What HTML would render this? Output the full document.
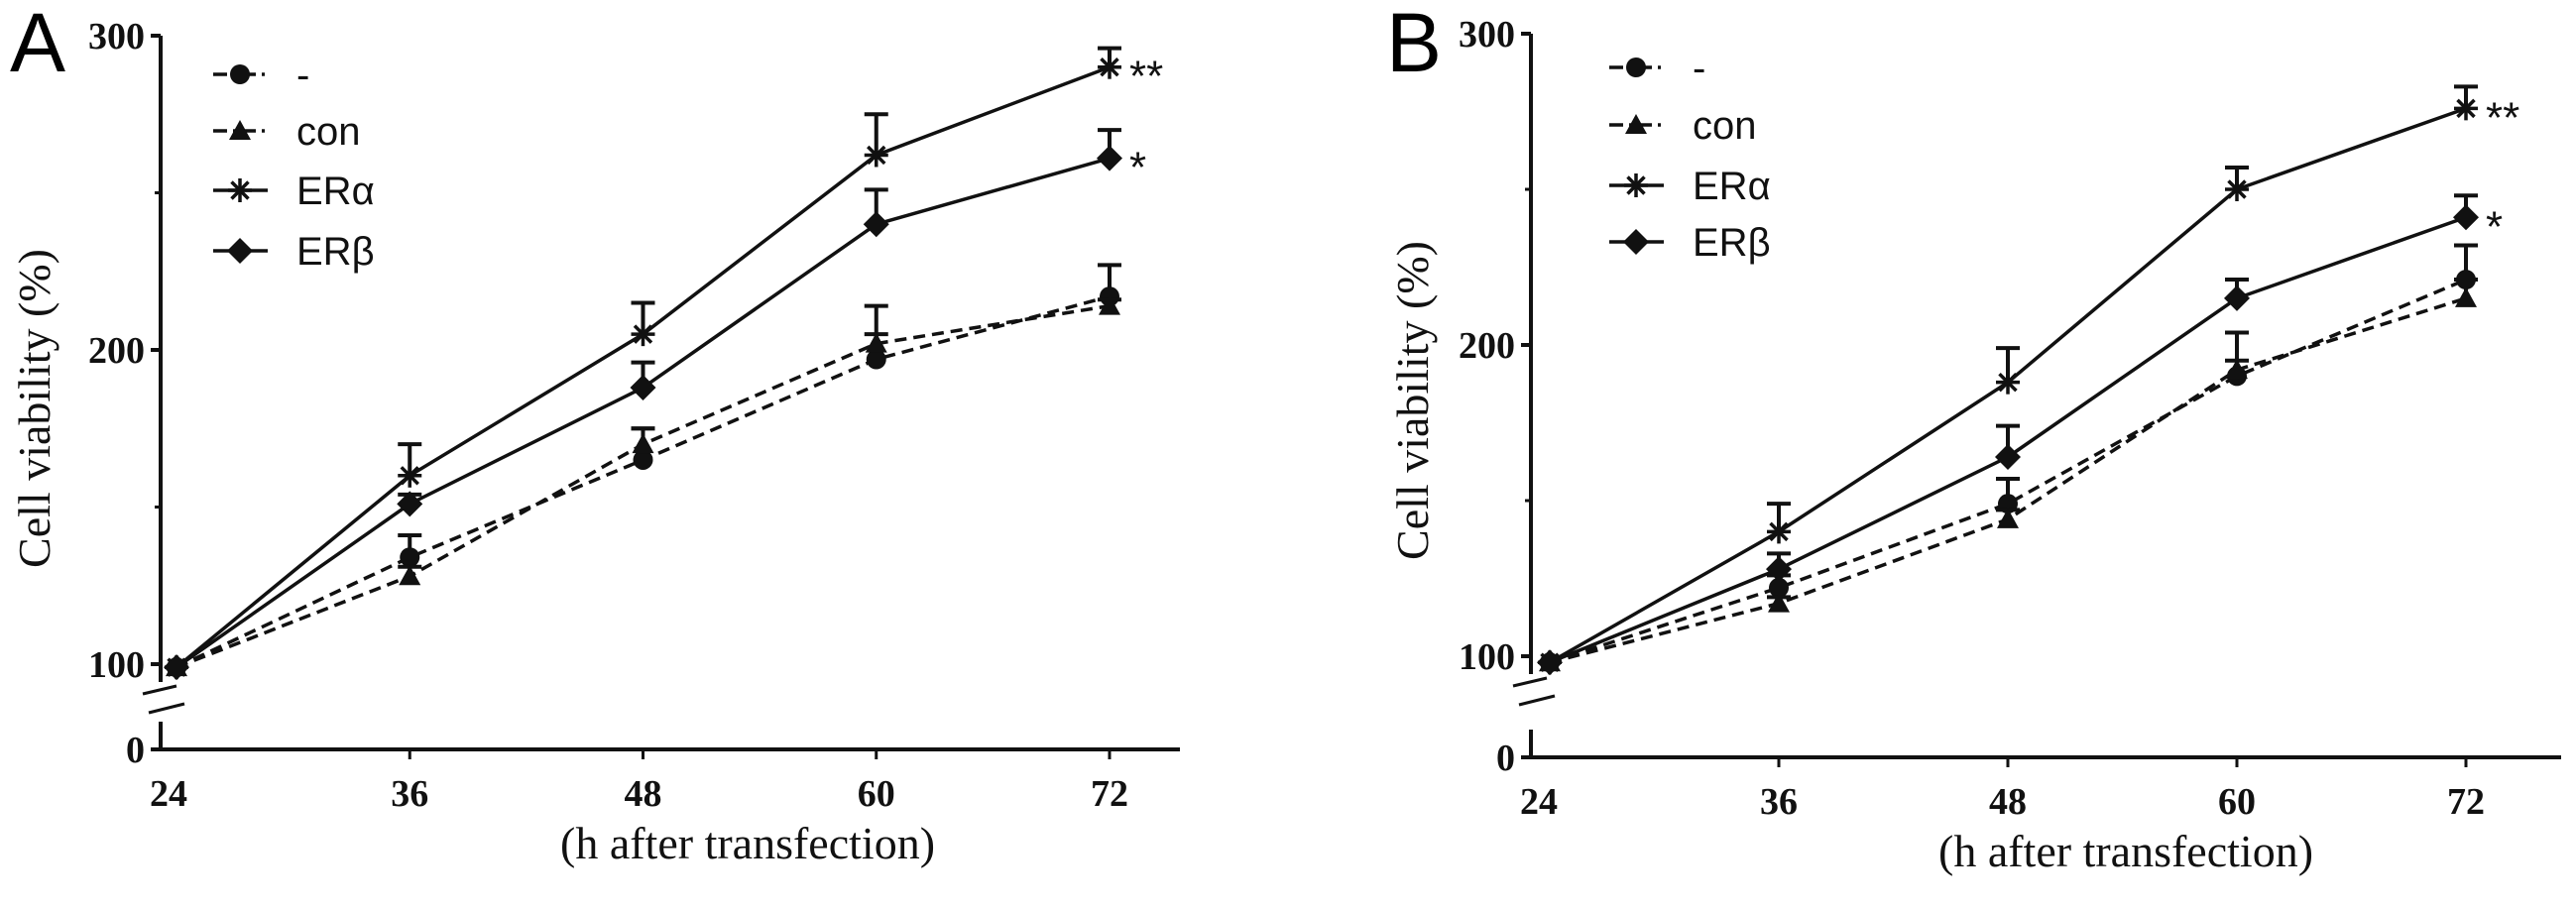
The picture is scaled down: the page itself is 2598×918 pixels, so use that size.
<!DOCTYPE html>
<html><head><meta charset="utf-8"><style>
html,body{margin:0;padding:0;background:#fff;}
svg{display:block;}
.tick{font-family:"Liberation Serif",serif;font-weight:bold;font-size:38px;fill:#111;}
.ttl{font-family:"Liberation Serif",serif;font-size:46px;fill:#111;}
.leg{font-family:"Liberation Sans",sans-serif;font-size:40px;fill:#111;}
.pan{font-family:"Liberation Sans",sans-serif;font-size:84px;fill:#000;}
.star{font-family:"Liberation Sans",sans-serif;font-size:44px;fill:#111;}
</style></head><body>
<svg id="fig" width="2598" height="918" viewBox="0 0 2598 918" xmlns="http://www.w3.org/2000/svg"></svg>
<script>
const hours = [24, 36, 48, 60, 72];
const seriesNames = ['-', 'con', 'ER\u03b1', 'ER\u03b2'];
const yTicks = [100, 200, 300];
const xTickLabels = ['24', '36', '48', '60', '72'];
// Panel A
const aNone = [99, 134, 165, 197, 217];
const aCon = [99, 128, 170, 202, 214];
const aEra = [99, 160, 205, 262, 290];
const aErb = [99, 151, 188, 240, 261];
const aNoneErr = [0, 7, 10, 17, 10];
const aConErr = [0, 3, 5, 3, 2];
const aEraErr = [0, 10, 10, 13, 6];
const aErbErr = [0, 3, 8, 11, 9];
// Panel B
const bNone = [98, 122, 149, 190, 221];
const bCon = [98, 117, 144, 192, 215];
const bEra = [98, 140, 188, 250, 276];
const bErb = [98, 128, 164, 215, 241];
const bNoneErr = [0, 4, 8, 14, 11];
const bConErr = [0, 2, 3, 3, 6];
const bEraErr = [0, 9, 11, 7, 7];
const bErbErr = [0, 5, 10, 6, 7];
const aStars = ['**', '*'];
const bStars = ['**', '*'];

const NS = 'http://www.w3.org/2000/svg';
const svg = document.getElementById('fig');
function mk(tag, attrs, parent) {
  const e = document.createElementNS(NS, tag);
  for (const k in attrs) e.setAttribute(k, attrs[k]);
  (parent || svg).appendChild(e);
  return e;
}
function marker(g, kind, x, y) {
  let m;
  if (kind === 0) m = mk('circle', {cx: x, cy: y, r: 10, fill: '#111'}, g);
  else if (kind === 1) m = mk('polygon', {points: `${x},${y-11} ${x+11},${y+9} ${x-11},${y+9}`, fill: '#111'}, g);
  else if (kind === 2) {
    m = mk('g', {stroke: '#111', 'stroke-width': 3.5}, g);
    for (let i = 0; i < 4; i++) {
      const a = i * Math.PI / 4, dx = 12 * Math.cos(a), dy = 12 * Math.sin(a);
      mk('line', {x1: x - dx, y1: y - dy, x2: x + dx, y2: y + dy}, m);
    }
  } else m = mk('polygon', {points: `${x},${y-13} ${x+13},${y} ${x},${y+13} ${x-13},${y}`, fill: '#111'}, g);
  
  
  return m;
}
function panel(cfg) {
  const p = mk('g', {});
  
  
  const xs = h => cfg.x0 + (h - 24) / 12 * cfg.xstep;
  const ys = v => cfg.y100 - (v - 100) * cfg.yk;
  // panel letter
  const L = mk('text', {x: cfg.letterX, y: 72, class: 'pan'}, p);
  L.textContent = cfg.id.toUpperCase();
  
  
  // axes
  const ax = mk('g', {stroke: '#111', 'stroke-width': 4, fill: 'none'}, p);
  
  
  mk('line', {x1: cfg.ax, y1: ys(300), x2: cfg.ax, y2: cfg.y100 + 18}, ax);
  mk('line', {x1: cfg.ax, y1: cfg.y0 - 28, x2: cfg.ax, y2: cfg.y0 + 2}, ax);
  mk('line', {x1: cfg.ax - 18, y1: cfg.y100 + 30, x2: cfg.ax + 16, y2: cfg.y100 + 22, 'stroke-width': 3}, ax);
  mk('line', {x1: cfg.ax - 12, y1: cfg.y100 + 49, x2: cfg.ax + 24, y2: cfg.y100 + 40, 'stroke-width': 3}, ax);
  mk('line', {x1: cfg.ax - 10, y1: cfg.y0, x2: cfg.xend, y2: cfg.y0}, ax);
  mk('line', {x1: cfg.ax - 10, y1: cfg.y0, x2: cfg.ax, y2: cfg.y0}, ax);
  yTicks.forEach(t => {
    mk('line', {x1: cfg.ax - 10, y1: ys(t), x2: cfg.ax, y2: ys(t)}, ax);
    const tx = mk('text', {x: cfg.ax - 16, y: ys(t) + 13, class: 'tick', 'text-anchor': 'end'}, p);
    tx.textContent = t;
    
    
  });
  [150, 250].forEach(t => mk('line', {x1: cfg.ax - 6, y1: ys(t), x2: cfg.ax, y2: ys(t), 'stroke-width': 3}, ax));
  const z = mk('text', {x: cfg.ax - 16, y: cfg.y0 + 13, class: 'tick', 'text-anchor': 'end'}, p);
  z.textContent = '0';
  
  
  hours.forEach((h, i) => {
    if (i > 0) mk('line', {x1: xs(h), y1: cfg.y0, x2: xs(h), y2: cfg.y0 + 10, 'stroke-width': 3}, ax);
    const tx = mk('text', {x: (i === 0 ? cfg.ax + 8 : xs(h)), y: cfg.y0 + 57, class: 'tick', 'text-anchor': 'middle'}, p);
    tx.textContent = xTickLabels[i];
    
    
  });
  const yt = mk('text', {x: 0, y: 0, class: 'ttl', 'text-anchor': 'middle', transform: `translate(${cfg.ytX},${cfg.ytY}) rotate(-90)`}, p);
  yt.textContent = 'Cell viability (%)';
  
  
  const xt = mk('text', {x: cfg.xtX, y: cfg.y0 + 110, class: 'ttl'}, p);
  xt.textContent = '(h after transfection)';
  
  
  // series
  cfg.series.forEach((s, k) => {
    const g = mk('g', {}, p);
    
    
    const pts = hours.map((h, i) => xs(h) + ',' + ys(s[i])).join(' ');
    const ln = mk('polyline', {points: pts, fill: 'none', stroke: '#111', 'stroke-width': 3.5, 'stroke-dasharray': k < 2 ? '12,7' : 'none'}, g);
    
    
    hours.forEach((h, i) => {
      const e = cfg.errs[k][i];
      if (e > 0) {
        const eb = mk('g', {stroke: '#111', 'stroke-width': 4}, g);
        
        
        mk('line', {x1: xs(h), y1: ys(s[i]), x2: xs(h), y2: ys(s[i] + e)}, eb);
        mk('line', {x1: xs(h) - 12, y1: ys(s[i] + e), x2: xs(h) + 12, y2: ys(s[i] + e)}, eb);
      }
      marker(g, k, xs(h), ys(s[i]));
    });
  });
  // stars
  [2, 3].forEach((k, j) => {
    const st = mk('text', {x: xs(72) + 20, y: ys(cfg.series[k][4]) + 24, class: 'star'}, p);
    st.textContent = cfg.stars[j];
    
    
  });
  // legend
  const lg = mk('g', {}, p);
  
  
  seriesNames.forEach((n, k) => {
    const y = cfg.legY[k];
    const e = mk('g', {}, lg);
    
    
    mk('line', {x1: cfg.legX, y1: y, x2: cfg.legX + 55, y2: y, stroke: '#111', 'stroke-width': 3.5, 'stroke-dasharray': k < 2 ? '14,6,3,6' : 'none'}, e);
    marker(e, k, cfg.legX + 27, y);
    const t = mk('text', {x: cfg.legX + 84, y: y + 14, class: 'leg'}, e);
    t.textContent = n;
  });
}
panel({id: 'a', x0: 178, xstep: 235.25, y100: 670, yk: 3.17, y0: 756, ax: 162, xend: 1190,
  letterX: 10, ytX: 50, ytY: 412, xtX: 565,
  series: [aNone, aCon, aEra, aErb], errs: [aNoneErr, aConErr, aEraErr, aErbErr], stars: aStars,
  legX: 215, legY: [75, 132, 192, 253]});
panel({id: 'b', x0: 1563, xstep: 231, y100: 662, yk: 3.14, y0: 764, ax: 1544, xend: 2583,
  letterX: 1398, ytX: 1440, ytY: 404, xtX: 1955,
  series: [bNone, bCon, bEra, bErb], errs: [bNoneErr, bConErr, bEraErr, bErbErr], stars: bStars,
  legX: 1623, legY: [68, 126, 187, 244]});
</script>
</body></html>
